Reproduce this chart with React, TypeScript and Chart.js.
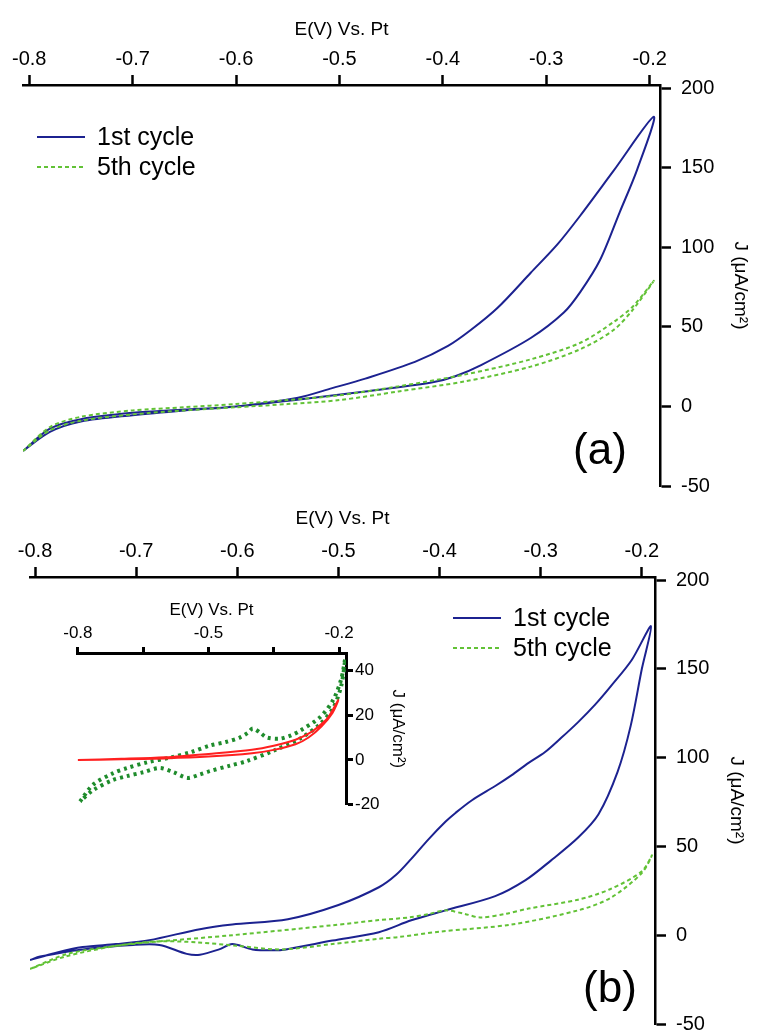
import { useEffect, useRef } from "react";
import { Chart, registerables } from "chart.js";

Chart.register(...registerables);

const FONT = "'Liberation Sans', Arial, Helvetica, sans-serif";
const BLUE = "#1c2290";
const GREEN = "#62c236";
const DARK_GREEN = "#1f8c2c";
const RED = "#ff2020";

// ---- tick values ----
const MAIN_X_TICKS = [-0.8, -0.7, -0.6, -0.5, -0.4, -0.3, -0.2];
const MAIN_Y_TICKS = [-50, 0, 50, 100, 150, 200];
const INSET_X_TICKS = [-0.8, -0.65, -0.5, -0.35, -0.2];
const INSET_X_LABELED = [-0.8, -0.5, -0.2];
const INSET_Y_TICKS = [-20, 0, 20, 40];

const X_TITLE = "E(V) Vs. Pt";
const Y_TITLE = "J (μA/cm²)";
const SERIES_NAMES = ["1st cycle", "5th cycle"];

// ---- panel (a) ----
const A_CYCLE1_E = [-0.806, -0.78, -0.75, -0.7, -0.65, -0.6, -0.54, -0.507, -0.475, -0.427, -0.395, -0.373, -0.347, -0.315, -0.289, -0.267, -0.235, -0.196,
  -0.212, -0.229, -0.248, -0.267, -0.283, -0.315, -0.363, -0.388, -0.411, -0.475, -0.539, -0.6, -0.65, -0.7, -0.75, -0.78, -0.806];
const A_CYCLE1_J = [-28, -14, -8, -4, -2, 0, 5.5, 11.5, 17.5, 28, 38, 48, 62, 84, 102, 120, 148, 182,
  149, 122, 92, 72, 59, 43, 26, 19, 15, 9.4, 4.4, 0, -2.5, -5.5, -9.5, -16, -28];
const A_CYCLE5_E = [-0.806, -0.78, -0.75, -0.7, -0.65, -0.6, -0.55, -0.5, -0.443, -0.379, -0.315, -0.267, -0.235, -0.216, -0.196,
  -0.216, -0.235, -0.267, -0.315, -0.379, -0.443, -0.5, -0.55, -0.6, -0.65, -0.7, -0.75, -0.78, -0.806];
const A_CYCLE5_J = [-28, -13, -6.5, -2.5, -0.5, 1.5, 4, 7, 12.6, 20, 29.6, 40, 53, 63, 79,
  61, 48, 36, 25, 15.7, 9.4, 4, 1.5, -0.5, -2.5, -5, -9, -15, -28];

// ---- panel (b) ----
const B_CYCLE1_E = [-0.805, -0.78, -0.753, -0.72, -0.687, -0.637, -0.605, -0.55, -0.5, -0.46, -0.443, -0.428, -0.411, -0.394, -0.384, -0.368, -0.345, -0.329, -0.312, -0.296, -0.28, -0.263, -0.246, -0.231, -0.21, -0.191,
  -0.2, -0.211, -0.224, -0.243, -0.263, -0.29, -0.315, -0.345, -0.394, -0.428, -0.46, -0.506, -0.552, -0.565, -0.585, -0.605, -0.618, -0.637, -0.65, -0.677, -0.703, -0.753, -0.795, -0.805];
const B_CYCLE1_J = [-14, -10, -6.7, -5, -2.8, 3.4, 6, 9, 17, 27, 34, 43, 54, 64, 69, 76, 84, 90, 97, 103, 111, 120, 130, 140, 155, 174,
  150, 118, 92, 68, 55, 42, 31, 22, 14, 8.4, 1.7, -3, -8, -8.5, -8, -5, -8, -11, -10.5, -5.5, -5.5, -8, -12, -14];
const B_CYCLE5_E = [-0.805, -0.768, -0.72, -0.687, -0.605, -0.506, -0.46, -0.43, -0.41, -0.394, -0.375, -0.36, -0.335, -0.312, -0.263, -0.231, -0.2, -0.19,
  -0.2, -0.231, -0.263, -0.329, -0.4, -0.44, -0.46, -0.506, -0.556, -0.6, -0.64, -0.68, -0.72, -0.77, -0.805];
const B_CYCLE5_J = [-19, -10.5, -6, -4, 0, 5.6, 8.5, 10, 12, 14, 12, 10, 12, 15, 20, 26, 36, 45,
  35, 21, 14, 6, 2, -1, -2, -5, -8, -6, -4, -3.5, -6, -12, -19];

// ---- inset ----
const INSET_RED_E = [-0.8, -0.7, -0.6, -0.5, -0.4, -0.35, -0.3, -0.27, -0.25, -0.225, -0.202,
  -0.215, -0.24, -0.27, -0.3, -0.35, -0.4, -0.5, -0.6, -0.7, -0.8];
const INSET_RED_J = [0, 0.5, 1.2, 2.7, 4.5, 6.3, 9, 11.7, 14.5, 19, 26.6,
  21, 15, 10, 7, 4.5, 3, 1.5, 0.7, 0.3, 0];
const INSET_GREEN_E = [-0.795, -0.765, -0.72, -0.687, -0.64, -0.589, -0.54, -0.497, -0.46, -0.428, -0.41, -0.398, -0.38, -0.366, -0.336, -0.31, -0.29, -0.244, -0.214, -0.195, -0.186,
  -0.195, -0.214, -0.244, -0.29, -0.352, -0.412, -0.45, -0.497, -0.52, -0.548, -0.58, -0.612, -0.65, -0.687, -0.72, -0.765, -0.795];
const INSET_GREEN_J = [-18.5, -11, -6, -3.6, -1, 1, 3.5, 6.4, 8, 10, 12, 14, 12, 10, 9.5, 11, 13, 19, 26.6, 36, 45,
  33, 23, 16, 9.5, 4, -0.5, -2.5, -5, -6.5, -8, -5.5, -3.6, -5.5, -7.2, -9, -13.5, -18.5];

const pts = (E: number[], J: number[]) => E.map((e, i) => ({ x: e, y: J[i] }));

type AxisOpts = {
  min: number; max: number; ticks: number[]; size: number; tickLength: number; lw: number;
  fontSize: number; pad: number; titleSize: number; titlePad: number; label: (v: number) => string;
};

function xAxis(o: AxisOpts) {
  return {
    type: "linear", position: "top", min: o.min, max: o.max,
    afterBuildTicks: (s: any) => { s.ticks = o.ticks.map((v) => ({ value: v })); },
    afterFit: (s: any) => { s.height = o.size; },
    grid: { display: true, drawOnChartArea: false, drawTicks: true, tickLength: o.tickLength, tickWidth: o.lw, tickColor: "#000" },
    border: { display: true, color: "#000", width: o.lw },
    ticks: { color: "#000", font: { family: FONT, size: o.fontSize }, padding: o.pad, maxRotation: 0, autoSkip: false, callback: (v: any) => o.label(Number(v)) },
    title: { display: true, text: X_TITLE, color: "#000", font: { family: FONT, size: o.titleSize }, padding: { top: o.titlePad, bottom: 0 } },
  };
}

function yAxis(o: AxisOpts) {
  return {
    type: "linear", position: "right", min: o.min, max: o.max,
    afterBuildTicks: (s: any) => { s.ticks = o.ticks.map((v) => ({ value: v })); },
    afterFit: (s: any) => { s.width = o.size; },
    grid: { display: true, drawOnChartArea: false, drawTicks: true, tickLength: o.tickLength, tickWidth: o.lw, tickColor: "#000" },
    border: { display: true, color: "#000", width: o.lw },
    ticks: { color: "#000", font: { family: FONT, size: o.fontSize }, padding: o.pad, autoSkip: false, callback: (v: any) => o.label(Number(v)) },
    title: { display: true, text: Y_TITLE, color: "#000", font: { family: FONT, size: o.titleSize }, padding: { top: o.titlePad, bottom: 0 } },
  };
}

function overlayPlugin(legend: { x: number; y: number } | null, tag: { text: string; x: number; y: number } | null) {
  return {
    id: "overlay",
    afterDraw(chart: any) {
      const ctx = chart.ctx;
      ctx.save();
      if (legend) {
        const styles = [
          { color: BLUE, dash: [] as number[] },
          { color: GREEN, dash: [4, 3] },
        ];
        styles.forEach((st, i) => {
          const y = legend.y + i * 30;
          ctx.beginPath();
          ctx.setLineDash(st.dash);
          ctx.strokeStyle = st.color;
          ctx.lineWidth = 2;
          ctx.moveTo(legend.x, y);
          ctx.lineTo(legend.x + 48, y);
          ctx.stroke();
          ctx.setLineDash([]);
          ctx.fillStyle = "#000";
          ctx.font = `25px ${FONT}`;
          ctx.textAlign = "left";
          ctx.textBaseline = "middle";
          ctx.fillText(SERIES_NAMES[i], legend.x + 60, y + 1);
        });
      }
      if (tag) {
        ctx.fillStyle = "#000";
        ctx.font = `44px ${FONT}`;
        ctx.textAlign = "center";
        ctx.textBaseline = "middle";
        ctx.fillText(tag.text, tag.x, tag.y);
      }
      ctx.restore();
    },
  };
}

const fmt1 = (v: number) => v.toFixed(1);
const fmt0 = (v: number) => String(Math.round(v));

function lineDs(data: any[], color: string, width: number, dash: number[]) {
  return {
    data, borderColor: color, backgroundColor: color, borderWidth: width, borderDash: dash,
    pointRadius: 0, showLine: true, tension: 0.3, fill: false,
  };
}

function baseOptions(padding: any, scales: any) {
  return {
    responsive: false, animation: false, maintainAspectRatio: false,
    layout: { padding },
    plugins: { legend: { display: false }, tooltip: { enabled: false } },
    events: [],
    scales,
  };
}

export default function App() {
  const refA = useRef<HTMLCanvasElement>(null);
  const refB = useRef<HTMLCanvasElement>(null);
  const refC = useRef<HTMLCanvasElement>(null);

  useEffect(() => {
    const charts: Chart[] = [];
    charts.push(new Chart(refA.current!, {
      type: "scatter",
      data: {
        datasets: [
          lineDs(pts(A_CYCLE5_E, A_CYCLE5_J), GREEN, 2, [4, 3]),
          lineDs(pts(A_CYCLE1_E, A_CYCLE1_J), BLUE, 2, []),
        ],
      },
      options: baseOptions({ left: 23, right: 0, top: 0, bottom: 15 }, {
        x: xAxis({ min: -0.806, max: -0.19, ticks: MAIN_X_TICKS, size: 85, tickLength: 10, lw: 2.5, fontSize: 20, pad: 4, titleSize: 19, titlePad: 18, label: fmt1 }),
        y: yAxis({ min: -50, max: 202, ticks: MAIN_Y_TICKS, size: 104, tickLength: 11, lw: 2.5, fontSize: 20, pad: 10, titleSize: 19, titlePad: 12, label: fmt0 }),
      }),
      plugins: [overlayPlugin({ x: 37, y: 137 }, { text: "(a)", x: 600, y: 452 })],
    } as any));

    charts.push(new Chart(refB.current!, {
      type: "scatter",
      data: {
        datasets: [
          lineDs(pts(B_CYCLE5_E, B_CYCLE5_J), GREEN, 2, [4, 3]),
          lineDs(pts(B_CYCLE1_E, B_CYCLE1_J), BLUE, 2, []),
        ],
      },
      options: baseOptions({ left: 30, right: 0, top: 0, bottom: 10 }, {
        x: xAxis({ min: -0.805, max: -0.187, ticks: MAIN_X_TICKS, size: 77, tickLength: 10, lw: 2.5, fontSize: 20, pad: 4, titleSize: 19, titlePad: 7, label: fmt1 }),
        y: yAxis({ min: -50, max: 201.7, ticks: MAIN_Y_TICKS, size: 109, tickLength: 11, lw: 2.5, fontSize: 20, pad: 10, titleSize: 19, titlePad: 16, label: fmt0 }),
      }),
      plugins: [overlayPlugin({ x: 453, y: 118 }, { text: "(b)", x: 610, y: 490 })],
    } as any));

    charts.push(new Chart(refC.current!, {
      type: "scatter",
      data: {
        datasets: [
          lineDs(pts(INSET_RED_E, INSET_RED_J), RED, 2, []),
          lineDs(pts(INSET_GREEN_E, INSET_GREEN_J), DARK_GREEN, 4, [3, 4]),
        ],
      },
      options: baseOptions({ left: 17, right: 0, top: 0, bottom: 12 }, {
        x: xAxis({ min: -0.802, max: -0.184, ticks: INSET_X_TICKS, size: 63, tickLength: 6, lw: 3, fontSize: 17, pad: 3, titleSize: 17, titlePad: 10,
          label: (v: number) => (INSET_X_LABELED.some((t) => Math.abs(t - v) < 1e-6) ? v.toFixed(1) : "") }),
        y: yAxis({ min: -20, max: 47.7, ticks: INSET_Y_TICKS, size: 74, tickLength: 7, lw: 3, fontSize: 17, pad: 2, titleSize: 17, titlePad: 12, label: fmt0 }),
      }),
    } as any));

    return () => charts.forEach((c) => c.destroy());
  }, []);

  return (
    <div style={{ position: "fixed", left: 0, top: 0, width: 764, height: 1033, overflow: "hidden", background: "#fff" }}>
      <canvas ref={refA} width={764} height={508} style={{ position: "absolute", left: 0, top: 0 }} />
      <canvas ref={refB} width={764} height={546} style={{ position: "absolute", left: 0, top: 500 }} />
      <canvas ref={refC} width={360} height={227} style={{ position: "absolute", left: 60, top: 590 }} />
    </div>
  );
}
